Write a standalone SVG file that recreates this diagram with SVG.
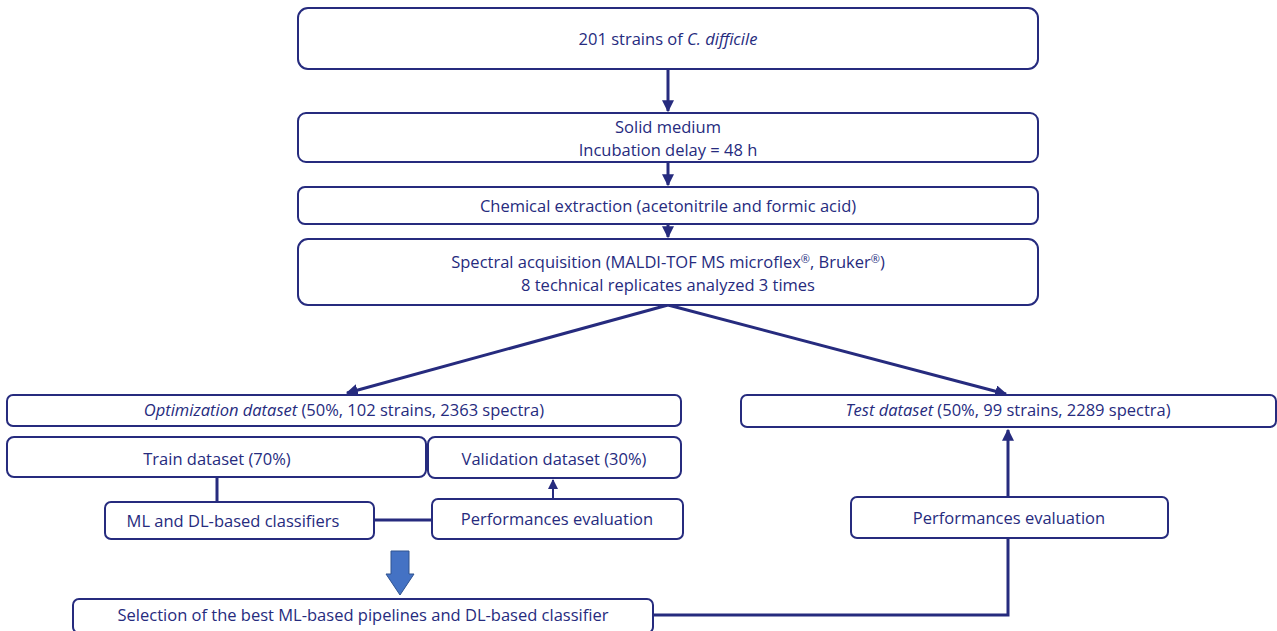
<svg xmlns="http://www.w3.org/2000/svg" width="1277" height="631" viewBox="0 0 1277 631">
<style>
.box{fill:#fff;stroke:#262B7E;stroke-width:2}
.t{font-family:"Open Sans","Liberation Sans",sans-serif;font-size:16.5px;fill:#262B7E;text-anchor:middle}
.sup{font-size:11px}
.c{stroke:#262B7E;stroke-width:3;fill:none}
.c2{stroke:#262B7E;stroke-width:2;fill:none}
</style>
<defs>
<marker id="ah" viewBox="0 0 10 10" refX="9" refY="5" markerWidth="4" markerHeight="4" orient="auto" markerUnits="strokeWidth"><path d="M0,0 L10,5 L0,10 z" fill="#262B7E"/></marker>
<marker id="ahs" viewBox="0 0 10 10" refX="9" refY="5" markerWidth="5" markerHeight="5" orient="auto" markerUnits="strokeWidth"><path d="M0,0 L10,5 L0,10 z" fill="#262B7E"/></marker>
</defs>
<rect width="1277" height="631" fill="#fff"/>
<g id="connectors">
<line class="c" x1="668" y1="69" x2="668" y2="111" marker-end="url(#ah)"/>
<line class="c" x1="668" y1="162" x2="668" y2="185" marker-end="url(#ah)"/>
<line class="c" x1="668" y1="224" x2="668" y2="237" marker-end="url(#ah)"/>
<line class="c" x1="668" y1="305" x2="347" y2="393" marker-end="url(#ah)"/>
<line class="c" x1="668" y1="305" x2="1006" y2="394" marker-end="url(#ah)"/>
<line class="c" x1="217" y1="477" x2="217" y2="502"/>
<line class="c" x1="374" y1="520" x2="432" y2="520"/>
<line class="c2" x1="553" y1="499" x2="553" y2="480" marker-end="url(#ahs)"/>
<polyline class="c" points="653,615 1008,615 1008,539"/>
<line class="c" x1="1008" y1="497" x2="1008" y2="430" marker-end="url(#ah)"/>
<path d="M391,551 H409 V574 H414 L400,595 L386,574 H391 Z" fill="#4472C4" stroke="#2F528F" stroke-width="1"/>
</g>
<g id="n1"><rect class="box" x="298" y="8" width="740" height="61" rx="10"/><text class="t" x="668" y="45">201 strains of <tspan font-style="italic">C. difficile</tspan></text></g>
<g id="n2"><rect class="box" x="298" y="113" width="740" height="49" rx="8"/><text class="t" x="668" y="133">Solid medium</text><text class="t" x="668" y="156">Incubation delay = 48 h</text></g>
<g id="n3"><rect class="box" x="298" y="187" width="740" height="37" rx="7"/><text class="t" x="668" y="212">Chemical extraction (acetonitrile and formic acid)</text></g>
<g id="n4"><rect class="box" x="298" y="239" width="740" height="66" rx="10"/><text class="t" x="668" y="268">Spectral acquisition (MALDI-TOF MS microflex<tspan class="sup" dy="-5">®</tspan><tspan dy="5">, Bruker</tspan><tspan class="sup" dy="-5">®</tspan><tspan dy="5">)</tspan></text><text class="t" x="668" y="291">8 technical replicates analyzed 3 times</text></g>
<g id="n5"><rect class="box" x="7" y="395" width="674" height="31" rx="6"/><text class="t" x="344" y="416"><tspan font-style="italic">Optimization dataset</tspan> (50%, 102 strains, 2363 spectra)</text></g>
<g id="n6"><rect class="box" x="741" y="395" width="535" height="32" rx="6"/><text class="t" x="1008" y="416"><tspan font-style="italic">Test dataset</tspan> (50%, 99 strains, 2289 spectra)</text></g>
<g id="n7"><rect class="box" x="7" y="437" width="419" height="40" rx="7"/><text class="t" x="217" y="465">Train dataset (70%)</text></g>
<g id="n8"><rect class="box" x="428" y="437" width="253" height="41" rx="7"/><text class="t" x="554" y="465">Validation dataset (30%)</text></g>
<g id="n9"><rect class="box" x="105" y="502" width="269" height="37" rx="6"/><text class="t" x="233" y="527">ML and DL-based classifiers</text></g>
<g id="n10"><rect class="box" x="432" y="499" width="251" height="40" rx="6"/><text class="t" x="557" y="525">Performances evaluation</text></g>
<g id="n11"><rect class="box" x="851" y="497" width="317" height="41" rx="6"/><text class="t" x="1009" y="524">Performances evaluation</text></g>
<g id="n12"><rect class="box" x="73" y="599" width="580" height="34" rx="6"/><text class="t" x="363" y="621">Selection of the best ML-based pipelines and DL-based classifier</text></g>
</svg>
